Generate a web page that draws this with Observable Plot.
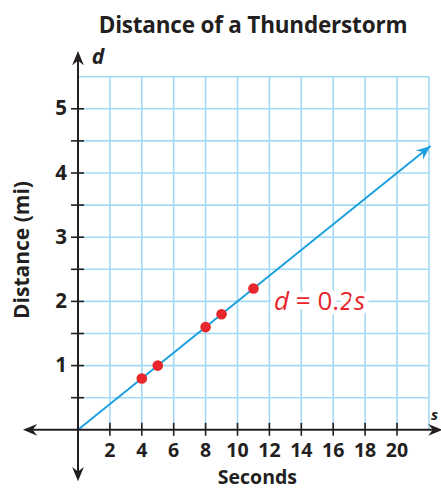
<!DOCTYPE html>
<html>
<head>
<meta charset="utf-8">
<script src="https://cdn.jsdelivr.net/npm/d3@7"></script>
<script src="https://cdn.jsdelivr.net/npm/@observablehq/plot@0.6"></script>
<style>
  html, body { margin: 0; padding: 0; background: #fff; }
  #title { height: 40px; width: 441px; text-align: center; font-family: "Open Sans", sans-serif; font-weight: 700; font-size: 22.5px; color: #231f20; line-height: 49px; letter-spacing: -0.2px; padding-left: 65px; box-sizing: border-box; white-space: nowrap; overflow: visible; }
  #chart svg { display: block; }
</style>
</head>
<body>
<div id="title">Distance of a Thunderstorm</div>
<div id="chart"></div>
<script>
// Data
const seconds = [4, 5, 8, 9, 11];
const distance = [0.8, 1.0, 1.6, 1.8, 2.2];
const xTicks = [2, 4, 6, 8, 10, 12, 14, 16, 18, 20];
const yTicks = [1, 2, 3, 4, 5];
const yMinor = [0.5, 1, 1.5, 2, 2.5, 3, 3.5, 4, 4.5, 5, 5.5];
const xGrid = [2, 4, 6, 8, 10, 12, 14, 16, 18, 20, 22];
const lineStart = {s: 0, d: 0};
const lineEnd = {s: 22.1, d: 4.42};
const equationLabel = "d = 0.2s";

const points = seconds.map((s, i) => ({s, d: distance[i]}));

const W = 441, H = 450;
const xRange = [77.5, 396.5];   // px for x domain [0,20]
const yRange = [389.3, 68.3];   // px for y domain [0,5]
const ux = (xRange[1] - xRange[0]) / 20;
const uy = (yRange[0] - yRange[1]) / 5;

// stealth arrowhead symbol, tip at origin, pointing up
const stealth = {
  draw(context, size) {
    const r = Math.sqrt(size / Math.PI);
    const L = r * 1.9, w = r * 0.78;
    context.moveTo(0, 0);
    context.lineTo(w, L);
    context.lineTo(0, L * 0.68);
    context.lineTo(-w, L);
    context.closePath();
  }
};

const ink = "#231f20";
const gridColor = "#a3daf3";
const blue = "#1ba1dd";
const red = "#e8262b";

const angle = Math.atan2((lineEnd.d - lineStart.d) * uy, (lineEnd.s - lineStart.s) * ux) * 180 / Math.PI;

const chart = Plot.plot({
  width: W,
  height: H,
  margin: 0,
  x: {domain: [0, 20], range: xRange, axis: null},
  y: {domain: [0, 5], range: yRange, axis: null},
  style: {fontFamily: "'Open Sans', sans-serif", color: ink, background: "#fff", overflow: "hidden"},
  marks: [
    // grid
    Plot.ruleX(xGrid, {x: d => d, y1: 0, y2: 5.5, stroke: gridColor, strokeWidth: 1.6}),
    Plot.ruleY(yMinor, {y: d => d, x1: 0, x2: 22, stroke: gridColor, strokeWidth: 1.6}),
    // blue line
    Plot.link([{x1: lineStart.s, y1: lineStart.d, x2: lineEnd.s, y2: lineEnd.d}], {x1: "x1", y1: "y1", x2: "x2", y2: "y2", stroke: blue, strokeWidth: 2}),
    Plot.dot([lineEnd], {x: "s", y: "d", symbol: stealth, r: 7.5, fill: blue, stroke: null, rotate: 90 - angle}),
    // axes
    Plot.ruleY([0], {x1: -3.2, x2: 22.6, stroke: ink, strokeWidth: 2}),
    Plot.ruleX([0], {y1: -0.74, y2: 5.82, stroke: ink, strokeWidth: 2}),
    Plot.dot([{x: 22.85, y: 0, r: 90}, {x: -3.45, y: 0, r: -90}, {x: 0, y: 5.9, r: 0}, {x: 0, y: -0.8, r: 180}],
      {x: "x", y: "y", rotate: "r", symbol: stealth, r: 7.5, fill: ink, stroke: null}),
    // ticks
    Plot.ruleX(xTicks, {x: d => d, y1: 0, y2: 0, insetTop: -6.5, insetBottom: -6.5, stroke: ink, strokeWidth: 1.6}),
    Plot.ruleY(yMinor.filter(d => d <= 5), {y: d => d, x1: 0, x2: 0, insetLeft: -6.5, insetRight: -6.5, stroke: ink, strokeWidth: 1.6}),
    // tick labels
    Plot.text(xTicks, {x: d => d, y: 0, dy: 20.5, text: d => String(d), fontSize: 19.5, fontWeight: 700, fill: ink}),
    Plot.text(yTicks, {x: 0, y: d => d, dx: -17, text: d => String(d), fontSize: 20.5, fontWeight: 700, fill: ink, textAnchor: "middle"}),
    // axis titles
    Plot.text(["Seconds"], {x: 11.25, y: 0, dy: 47.7, text: d => d, fontSize: 19.5, fontWeight: 700, fill: ink}),
    Plot.text(["Distance (mi)"], {x: -3.5, y: 2.8, text: d => d, rotate: -90, fontSize: 21, fontWeight: 700, fill: ink}),
    Plot.text(["d"], {x: 1.25, y: 5.8, text: d => d, fontSize: 21, fontWeight: 700, fontStyle: "italic", fill: ink}),
    Plot.text(["s"], {x: 22.35, y: 0, dy: -15, text: d => d, fontSize: 15, fontWeight: 700, fontStyle: "italic", fill: ink, textAnchor: "middle"}),
    // equation label
    Plot.text([equationLabel], {x: 15.15, y: 2.0, text: d => d, fontSize: 26, fill: red, stroke: "white", strokeWidth: 10, paintOrder: "stroke", className: "eq"}),
    // points
    Plot.dot(points, {x: "s", y: "d", r: 5.3, fill: red, stroke: null})
  ]
});

// italicize the variables in the equation
d3.select(chart).selectAll(".eq text").each(function() {
  const t = d3.select(this);
  const txt = t.text();
  const m = txt.match(/^(d)( = 0\.2)(s)$/);
  if (m) {
    t.text(null);
    t.append("tspan").attr("font-style", "italic").text(m[1]);
    t.append("tspan").text(m[2]);
    t.append("tspan").attr("font-style", "italic").text(m[3]);
  }
});

document.getElementById("chart").appendChild(chart);
</script>
</body>
</html>
